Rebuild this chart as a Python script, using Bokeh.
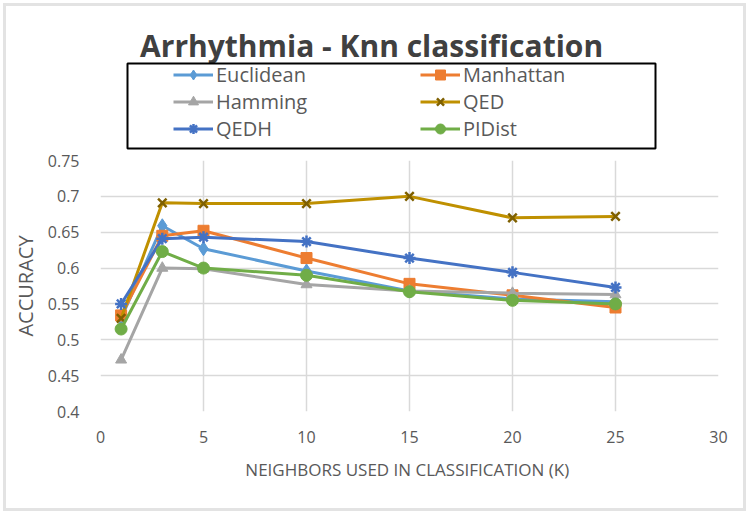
from bokeh.plotting import figure
from bokeh.layouts import column
from bokeh.models import Legend, LegendItem, FixedTicker, BoxAnnotation, Label
from bokeh.embed import file_html
from bokeh.resources import INLINE

k = [1, 3, 5, 10, 15, 20, 25]
euclidean = [0.530, 0.659, 0.627, 0.596, 0.568, 0.557, 0.553]
manhattan = [0.534, 0.645, 0.652, 0.614, 0.578, 0.562, 0.545]
hamming = [0.472, 0.600, 0.599, 0.577, 0.568, 0.565, 0.563]
qed = [0.530, 0.691, 0.690, 0.690, 0.700, 0.670, 0.672]
qedh = [0.550, 0.641, 0.643, 0.637, 0.614, 0.594, 0.573]
pidist = [0.515, 0.623, 0.600, 0.590, 0.567, 0.555, 0.550]

x_ticks = [0, 5, 10, 15, 20, 25, 30]
y_ticks = [0.4, 0.45, 0.5, 0.55, 0.6, 0.65, 0.7, 0.75]

FONT = "Open Sans"
TXT = "#595959"
W = 737
BL, BR = 94, 25
FW = W - BL - BR

series = [
    ("Euclidean", euclidean, "#5B9BD5", "diamond", 14, "#5B9BD5"),
    ("Manhattan", manhattan, "#ED7D31", "square", 11, "#ED7D31"),
    ("Hamming", hamming, "#A5A5A5", "triangle", 11, "#A5A5A5"),
    ("QED", qed, "#BF9000", "x", 12, "#7F6000"),
    ("QEDH", qedh, "#4472C4", "asterisk", 12, "#4472C4"),
    ("PIDist", pidist, "#70AD47", "circle", 12, "#70AD47"),
]

# ---- top: title + legend (frame aligned with the chart frame) ----
TH = 144
top = figure(width=W, height=TH, x_range=(0, FW), y_range=(0, TH),
             output_backend="svg", toolbar_location=None,
             min_border_left=BL, min_border_right=BR, min_border_top=0, min_border_bottom=0,
             x_axis_type=None, y_axis_type=None)
top.outline_line_color = None
top.xgrid.visible = False
top.ygrid.visible = False
top.add_layout(Label(x=275, y=105, text="Arrhythmia  - Knn classification",
                     text_align="center", text_baseline="middle",
                     text_font=FONT, text_font_size="30px", text_font_style="bold",
                     text_color="#404040"))

proxies = {}
nan = float("nan")
for name, ys, col, mk, sz, mcol in series:
    ln = top.line(x=[nan], y=[nan], line_color=col, line_width=3)
    if mk in ("x", "asterisk"):
        sc = top.scatter(x=[nan], y=[nan], marker=mk, size=sz, line_color=mcol, line_width=2.5)
    else:
        sc = top.scatter(x=[nan], y=[nan], marker=mk, size=sz, fill_color=mcol, line_color=mcol)
    proxies[name] = LegendItem(label=name, renderers=[ln, sc])

order = ["Euclidean", "Hamming", "QEDH", "Manhattan", "QED", "PIDist"]
legend = Legend(items=[proxies[n] for n in order], ncols=2, location=(73, 8),
                label_text_font=FONT, label_text_font_size="20px", label_text_color=TXT,
                glyph_width=40, glyph_height=25, label_height=25, label_width=204,
                label_standoff=3, spacing=0, padding=2, margin=0,
                border_line_color=None, background_fill_alpha=0)
top.add_layout(legend, "center")
top.add_layout(BoxAnnotation(left=27, right=555, bottom=2, top=87,
                             fill_color=None, line_color="black", line_alpha=1.0,
                             line_width=2))

# ---- main chart ----
p = figure(width=W, height=358, x_range=(0, 30), y_range=(0.4, 0.75),
           output_backend="svg", toolbar_location=None,
           min_border_left=BL, min_border_right=BR, min_border_top=10, min_border_bottom=97)
p.outline_line_color = None

for ax in (p.xaxis[0], p.yaxis[0]):
    ax.axis_line_color = None
    ax.major_tick_line_color = None
    ax.minor_tick_line_color = None
    ax.major_label_text_font = FONT
    ax.major_label_text_font_size = "16px"
    ax.major_label_text_color = TXT
    ax.axis_label_text_font = FONT
    ax.axis_label_text_font_size = "17px"
    ax.axis_label_text_font_style = "normal"
    ax.axis_label_text_color = TXT

p.xaxis.ticker = FixedTicker(ticks=x_ticks)
p.yaxis.ticker = FixedTicker(ticks=y_ticks)
p.yaxis.major_label_overrides = {v: f"{v:g}" for v in y_ticks}
p.xaxis.axis_label = "NEIGHBORS USED IN CLASSIFICATION  (K)"
p.yaxis.axis_label = "ACCURACY"
p.yaxis.axis_label_text_font_size = "20px"
p.xaxis.major_label_standoff = 13
p.yaxis.major_label_standoff = 15
p.xaxis.axis_label_standoff = 12
p.yaxis.axis_label_standoff = 6

p.xgrid.grid_line_color = "#d9d9d9"
p.ygrid.grid_line_color = "#d9d9d9"
p.xgrid.grid_line_width = 1.5
p.ygrid.grid_line_width = 1.5

for name, ys, col, mk, sz, mcol in series:
    p.line(k, ys, line_color=col, line_width=3)
    if mk in ("x", "asterisk"):
        p.scatter(k, ys, marker=mk, size=sz, line_color=mcol, line_width=2.5)
    else:
        p.scatter(k, ys, marker=mk, size=sz, fill_color=mcol, line_color=mcol)

layout = column(top, p, spacing=0,
                styles={"border": "3px solid #e3e3e3", "margin": "3px 0 0 3px"})
open("out.html", "w").write(file_html(layout, INLINE))
